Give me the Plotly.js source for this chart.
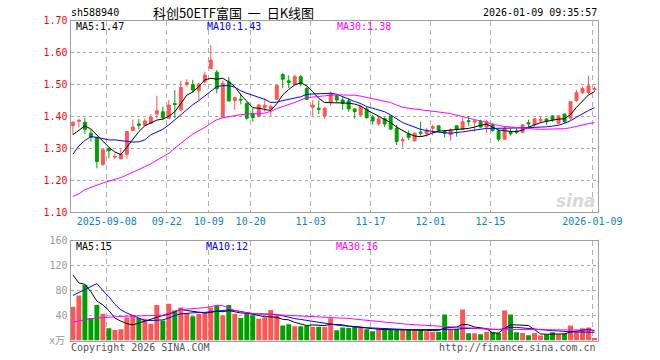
<!DOCTYPE html>
<html><head><meta charset="utf-8">
<script src="https://cdn.plot.ly/plotly-3.0.1.min.js"></script>
<style>html,body{margin:0;padding:0;background:#fff}#chart{width:660px;height:360px}</style>
</head><body><div id="chart"></div>
<script>
const dates = ['2025-08-29','2025-09-01','2025-09-02','2025-09-03','2025-09-04','2025-09-05',
'2025-09-08','2025-09-09','2025-09-10','2025-09-11','2025-09-12','2025-09-15','2025-09-16','2025-09-17','2025-09-18','2025-09-19',
'2025-09-22','2025-09-23','2025-09-24','2025-09-25','2025-09-26','2025-09-29','2025-09-30',
'2025-10-09','2025-10-10','2025-10-13','2025-10-14','2025-10-15','2025-10-16','2025-10-17',
'2025-10-20','2025-10-21','2025-10-22','2025-10-23','2025-10-24','2025-10-27','2025-10-28','2025-10-29','2025-10-30','2025-10-31',
'2025-11-03','2025-11-04','2025-11-05','2025-11-06','2025-11-07','2025-11-10','2025-11-11','2025-11-12','2025-11-13','2025-11-14',
'2025-11-17','2025-11-18','2025-11-19','2025-11-20','2025-11-21','2025-11-24','2025-11-25','2025-11-26','2025-11-27','2025-11-28',
'2025-12-01','2025-12-02','2025-12-03','2025-12-04','2025-12-05','2025-12-08','2025-12-09','2025-12-10','2025-12-11','2025-12-12',
'2025-12-15','2025-12-16','2025-12-17','2025-12-18','2025-12-19','2025-12-22','2025-12-23','2025-12-24','2025-12-25','2025-12-26',
'2025-12-29','2025-12-30','2025-12-31','2026-01-05','2026-01-06','2026-01-07','2026-01-08','2026-01-09'];

const open = [1.371,1.384,1.381,1.347,1.333,1.248,1.298,1.272,1.267,1.281,1.355,1.376,1.372,1.378,1.407,1.414,1.394,1.440,1.420,1.499,1.499,1.480,
1.508,1.550,1.538,1.397,1.508,1.449,1.453,1.441,1.409,1.399,1.427,1.423,1.453,1.531,1.511,1.500,1.524,1.487,1.428,1.425,1.401,
1.443,1.464,1.451,1.448,1.423,1.404,1.423,1.397,1.376,1.392,1.401,1.362,1.323,1.345,1.323,1.350,1.345,1.362,1.370,1.352,
1.342,1.370,1.359,1.386,1.382,1.383,1.366,1.373,1.354,1.328,1.349,1.354,1.349,1.380,1.373,1.386,1.391,1.401,1.378,1.407,1.394,1.449,1.474,1.474,1.484];
const high = [1.384,1.393,1.395,1.358,1.335,1.297,1.303,1.284,1.300,1.353,1.389,1.391,1.393,1.407,1.464,1.430,1.451,1.482,1.511,1.516,1.514,1.505,
1.539,1.623,1.545,1.512,1.524,1.461,1.472,1.442,1.425,1.438,1.456,1.436,1.497,1.535,1.528,1.530,1.529,1.493,1.451,1.450,1.430,
1.478,1.467,1.461,1.456,1.424,1.435,1.430,1.404,1.401,1.397,1.402,1.373,1.336,1.355,1.349,1.383,1.363,1.373,1.371,1.357,
1.362,1.371,1.394,1.401,1.389,1.389,1.389,1.378,1.357,1.366,1.362,1.362,1.376,1.389,1.394,1.397,1.394,1.404,1.404,1.408,1.447,1.482,1.493,1.527,1.493];
const low = [1.343,1.365,1.344,1.321,1.237,1.246,1.268,1.266,1.264,1.267,1.354,1.359,1.370,1.376,1.393,1.389,1.391,1.394,1.415,1.493,1.474,1.451,
1.503,1.547,1.472,1.395,1.446,1.420,1.437,1.389,1.383,1.397,1.414,1.401,1.451,1.488,1.488,1.498,1.493,1.451,1.401,1.407,1.391,
1.432,1.444,1.420,1.414,1.392,1.399,1.392,1.373,1.370,1.366,1.357,1.310,1.302,1.326,1.320,1.336,1.336,1.340,1.352,1.333,
1.323,1.336,1.357,1.370,1.352,1.363,1.347,1.352,1.321,1.326,1.339,1.344,1.347,1.366,1.366,1.378,1.373,1.383,1.375,1.378,1.389,1.446,1.470,1.470,1.477];
const close = [1.381,1.387,1.359,1.334,1.258,1.295,1.292,1.274,1.281,1.352,1.366,1.372,1.385,1.397,1.417,1.396,1.435,1.437,1.490,1.506,1.482,1.501,
1.529,1.576,1.486,1.503,1.448,1.458,1.451,1.394,1.396,1.435,1.435,1.430,1.496,1.516,1.506,1.524,1.503,1.453,1.435,1.422,1.425,
1.472,1.451,1.441,1.423,1.415,1.430,1.396,1.385,1.392,1.376,1.360,1.321,1.326,1.334,1.347,1.347,1.357,1.368,1.355,1.347,
1.357,1.359,1.383,1.383,1.385,1.366,1.383,1.355,1.328,1.362,1.345,1.350,1.373,1.376,1.392,1.390,1.384,1.389,1.401,1.383,1.446,1.474,1.487,1.495,1.487];

const ma5 = [1.342,1.355,1.370,1.360,1.340,1.322,1.303,1.288,1.280,1.303,1.328,1.352,1.370,1.380,1.388,1.391,1.400,1.414,1.440,1.466,1.476,1.493,
1.514,1.519,1.516,1.519,1.508,1.493,1.467,1.446,1.427,1.425,1.422,1.418,1.439,1.467,1.484,1.498,1.505,1.495,1.477,1.456,1.443,
1.443,1.441,1.442,1.441,1.438,1.432,1.420,1.410,1.400,1.392,1.380,1.366,1.355,1.345,1.338,1.336,1.340,1.348,1.353,1.355,
1.356,1.357,1.359,1.362,1.366,1.372,1.375,1.366,1.357,1.355,1.352,1.352,1.357,1.366,1.373,1.380,1.384,1.388,1.391,1.392,1.405,1.428,1.449,1.467,1.477];
const ma10 = [1.281,1.307,1.324,1.336,1.334,1.329,1.326,1.326,1.324,1.321,1.319,1.320,1.326,1.342,1.351,1.359,1.373,1.389,1.404,1.420,1.436,1.449,
1.464,1.477,1.493,1.496,1.496,1.491,1.480,1.472,1.465,1.459,1.453,1.443,1.444,1.449,1.453,1.456,1.461,1.469,1.470,1.470,1.470,
1.472,1.469,1.461,1.453,1.446,1.440,1.430,1.425,1.420,1.414,1.404,1.391,1.380,1.373,1.366,1.359,1.355,1.352,1.350,1.348,
1.347,1.348,1.351,1.354,1.357,1.359,1.362,1.362,1.362,1.362,1.362,1.362,1.362,1.364,1.365,1.365,1.367,1.369,1.372,1.378,1.386,1.397,1.408,1.418,1.427];
const ma30 = [1.149,1.157,1.170,1.178,1.184,1.191,1.196,1.201,1.208,1.216,1.224,1.232,1.242,1.251,1.262,1.274,1.284,1.300,1.316,1.330,1.344,1.354,
1.365,1.378,1.389,1.395,1.399,1.402,1.405,1.407,1.407,1.408,1.410,1.415,1.424,1.430,1.435,1.443,1.451,1.458,1.460,1.461,1.464,
1.466,1.467,1.467,1.466,1.466,1.463,1.459,1.456,1.453,1.449,1.443,1.435,1.428,1.425,1.423,1.420,1.418,1.417,1.415,1.411,
1.408,1.404,1.399,1.394,1.389,1.386,1.380,1.375,1.371,1.368,1.366,1.364,1.362,1.361,1.360,1.359,1.359,1.359,1.359,1.361,1.364,1.369,1.374,1.377,1.380];

const volume = [54,72,89,36,57,43,19.5,17,18,37,41,36,35,27,57,32,59,48,53,44,39,43,44,53,56,40,57,43,36,44,40,35,37,49,40,24,26,23,23,24,22,22,
21.6,35.8,16.3,21,20,21.6,20,17.9,14.7,18.9,17.4,17.4,17.4,17.4,17.9,18.4,17.4,14.7,13.7,13.7,41.6,17.4,18.9,49.5,11.6,11.6,10,13.7,13.7,12.1,
47.9,41.6,13.2,12.1,8.4,12.1,7.9,9.5,13.2,10,11,24.2,14.2,19.5,21,4.2];
const vma5 = [105,92,90,78,63,57,48,36,31,27,25,28,32,34,37,40,42,46,50,48,47,46,44,45,47,46,48,46,44,44,42,39,38,38,37,34,33,29,26,24,25,25,
24,26,26,25,23,21.6,20.5,20,19,18,17.4,17.4,17.4,17.4,17.4,17.4,17.4,16.3,15.8,15.8,20,20.5,21.6,25.8,25,21.6,20,19,12,12,
19.5,25,25,25,24,17.4,10.5,10,10,10.5,10.5,13.7,14.7,15.8,17.9,15.5];
const vma10 = [72,77,82,87,91,80,70,58,49,44,40,35,32,32,32,33,36,40,42.6,43.7,44.7,45,45,46,47,48,49,48,46,44.7,43,42.6,42.6,42.6,41.6,39.5,37,35,33.7,32,30.5,29.5,
27.4,25.8,24.7,23.7,23.2,22.6,21.6,20.5,20,19,18.4,17.9,17.4,17.4,17.4,17.4,17.4,17.4,16.8,16.8,17.9,17.9,17.9,19,19.5,19.5,19,18.4,17.4,17.4,
19,21,21,20,19,18.4,16.8,16.3,15.8,15.3,14.2,13.7,13.7,13.7,13.7,13.2];
const vma30 = [29.5,31.6,33,35,36,36.8,37.9,38.4,38.4,39,39,39,39,39.5,40,40.5,44.2,46.8,49.5,50,51,51.6,52.6,54.2,56.3,55.8,51.6,47.9,45.8,44.2,43.2,42.6,42.1,41.6,41,40.5,40,39.5,39,38.4,38.4,38.4,
37.9,36.8,36.3,35.8,35.3,34.2,33.2,32,31,30.5,29.5,28.4,27.4,26.3,25.8,25.3,24.7,24.2,23.2,22.6,22.1,21,20.5,20.5,20,19.5,19,18.4,17.9,17.9,
17.9,17.9,17.9,17.4,17.4,17.4,17.4,17.4,17.2,17,17,16.9,16.8,16.7,16.6,16.5];

const tickDates = ['2025-09-08','2025-09-22','2025-10-09','2025-10-20','2025-11-03','2025-11-17','2025-12-01','2025-12-15','2026-01-09'];
const tickLabels = ['2025-09-08','09-22','10-09','10-20','11-03','11-17','12-01','12-15','2026-01-09'];
const priceTicks = [1.10,1.20,1.30,1.40,1.50,1.60,1.70];
const volTicks = [40,80,120,160];

const W = 660, H = 360;
const RED = '#ff5555', GREEN = '#00a000', BLUE = '#0000ff', MAG = '#ff00ff';
const idx = dates.map((d, i) => i);
const tickPos = tickDates.map(d => dates.indexOf(d) - 0.35);
const volColors = close.map((c, i) => c >= open[i] ? RED : GREEN);

const px = v => v / W, py = v => 1 - v / H;
const xDom = [px(70.5), px(597.5)];
const xr = [-0.4, 87.5];

function line(y, color, xa, ya) {
  return {type: 'scatter', mode: 'lines', x: idx, y: y, xaxis: xa, yaxis: ya,
    line: {color: color, width: 1}, hoverinfo: 'skip'};
}

const traces = [
  {type: 'candlestick', x: idx, open: open, high: high, low: low, close: close, xaxis: 'x', yaxis: 'y',
   increasing: {line: {color: RED, width: 1}, fillcolor: RED},
   decreasing: {line: {color: GREEN, width: 1}, fillcolor: GREEN},
   whiskerwidth: 0, hoverinfo: 'skip'},
  line(ma5, '#000000', 'x', 'y'), line(ma10, BLUE, 'x', 'y'), line(ma30, MAG, 'x', 'y'),
  {type: 'bar', x: idx, y: volume, xaxis: 'x2', yaxis: 'y2', width: 0.82,
   marker: {color: volColors, line: {width: 0}}, hoverinfo: 'skip'},
  line(vma5, '#000000', 'x2', 'y2'), line(vma10, BLUE, 'x2', 'y2'), line(vma30, MAG, 'x2', 'y2')
];

const frame = {showline: true, mirror: true, linecolor: '#a0a0a0', linewidth: 1, zeroline: false, ticks: '', fixedrange: true};
const xgrid = {showgrid: true, gridcolor: '#b0b0b0', gridwidth: 1, griddash: '5px,4px'};
const ygrid = {showgrid: true, gridcolor: '#a8a8a8', gridwidth: 1, griddash: 'dot'};

function ann(text, x, y, color, anchor, size, family) {
  return {text: text, x: px(x), y: py(y), xref: 'paper', yref: 'paper', showarrow: false,
    xanchor: anchor, yanchor: 'middle', font: {color: color, size: size || 10, family: family || 'DejaVu Sans Mono'}};
}

const layout = {
  width: W, height: H, margin: {l: 0, r: 0, t: 0, b: 0},
  paper_bgcolor: '#ffffff', plot_bgcolor: '#ffffff', showlegend: false,
  font: {family: 'DejaVu Sans Mono', size: 10, color: '#000'},
  xaxis: Object.assign({domain: xDom, range: xr, anchor: 'y', tickmode: 'array', tickvals: tickPos, ticktext: tickLabels,
    tickfont: {color: '#0a7fd4', size: 10}, rangeslider: {visible: false}}, frame, xgrid),
  yaxis: Object.assign({domain: [py(212), py(20.5)], range: [1.10, 1.70], anchor: 'x', tickmode: 'array', tickvals: priceTicks,
    tickformat: '.2f', tickfont: {color: '#ff0000', size: 10}}, frame, ygrid),
  xaxis2: Object.assign({domain: xDom, range: xr, anchor: 'y2', tickmode: 'array', tickvals: tickPos, showticklabels: false}, frame, xgrid),
  yaxis2: Object.assign({domain: [py(340.5), py(240.5)], range: [0, 160], anchor: 'x2', tickmode: 'array', tickvals: volTicks,
    tickfont: {color: '#999999', size: 10}}, frame, ygrid),
  annotations: [
    ann('sh588940', 69, 13, '#000', 'left'),
    ann('科创50ETF富国 \u00a0一\u00a0 日K线图', 151, 13, '#000', 'left', 13, 'Noto Sans CJK SC'),
    ann('2026-01-09 09:35:57', 599, 13, '#000', 'right'),
    ann('MA5:1.47', 74, 27, '#000', 'left'),
    ann('MA10:1.43', 205, 27, BLUE, 'left'),
    ann('MA30:1.38', 335, 27, MAG, 'left'),
    ann('MA5:15', 74, 246, '#000', 'left'),
    ann('MA10:12', 204, 246, BLUE, 'left'),
    ann('MA30:16', 334, 246, MAG, 'left'),
    ann('x万', 67, 340, '#999999', 'right', 10, 'DejaVu Sans Mono, Noto Sans CJK SC'),
    ann('Copyright 2026 SINA.COM', 69, 347, '#555555', 'left'),
    ann('http://finance.sina.com.cn', 598, 347, '#555555', 'right'),
    ann('<i><b>sina</b></i>', 576, 201, '#d8d8d8', 'center', 17, 'DejaVu Sans')
  ]
};

Plotly.newPlot('chart', traces, layout, {staticPlot: true, displayModeBar: false});
</script></body></html>
